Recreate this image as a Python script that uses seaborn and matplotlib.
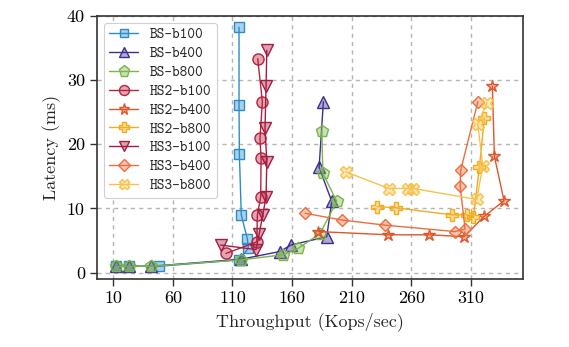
import matplotlib
matplotlib.use("Agg")
import matplotlib.pyplot as plt
import seaborn as sns
from matplotlib.colors import to_rgba

# ---- data (Throughput in Kops/sec, Latency in ms) ----
labels = ["BS-b100", "BS-b400", "BS-b800", "HS2-b100", "HS2-b400",
          "HS2-b800", "HS3-b100", "HS3-b400", "HS3-b800"]

bs_b100_x = [12.3, 23.4, 48.4, 115.5, 123.3, 122.5, 117.4, 115.8, 115.5, 115.5]
bs_b100_y = [1.0, 1.0, 1.0, 2.0, 3.8, 5.25, 9.0, 18.4, 26.1, 38.2]

bs_b400_x = [12.3, 23.4, 41.6, 117.2, 149.9, 158.9, 189.1, 193.3, 182.7, 186.3]
bs_b400_y = [1.0, 1.0, 1.0, 2.1, 3.3, 4.3, 5.6, 11.1, 16.4, 26.6]

bs_b800_x = [12.3, 23.4, 41.6, 117.4, 152.7, 165.3, 183.5, 197.5, 185.8, 185.0]
bs_b800_y = [1.0, 1.0, 1.0, 2.0, 2.8, 3.8, 6.1, 11.1, 15.5, 22.1]

hs2_b100_x = [104.6, 130.4, 130.9, 133.7, 134.0, 133.1, 135.1, 131.2]
hs2_b100_y = [3.0, 4.8, 9.0, 11.8, 17.8, 20.9, 26.6, 33.3]

hs2_b400_x = [182.1, 240.8, 275.2, 304.4, 321.4, 337.9, 329.8, 328.1]
hs2_b400_y = [6.4, 5.9, 5.9, 5.6, 8.8, 11.2, 18.1, 29.0]

hs2_b800_x = [231.6, 247.3, 294.0, 306.6, 312.2, 317.2, 321.4]
hs2_b800_y = [10.3, 10.1, 9.0, 9.0, 8.7, 16.4, 24.1]

hs3_b100_x = [100.1, 129.8, 132.5, 135.4, 138.2, 138.8, 137.3, 138.2, 138.8]
hs3_b100_y = [4.3, 3.6, 6.1, 9.0, 11.8, 17.3, 22.5, 29.0, 34.6]

hs3_b400_x = [170.9, 201.7, 238.1, 296.8, 305.2, 301.0, 301.6, 315.9]
hs3_b400_y = [9.25, 8.2, 7.4, 6.4, 6.8, 13.5, 16.0, 26.6]

hs3_b800_x = [204.9, 241.4, 257.6, 261.8, 315.0, 320.0, 315.9, 323.4]
hs3_b800_y = [15.7, 13.1, 13.1, 13.1, 11.4, 16.6, 23.1, 26.4]

xticks = [10, 60, 110, 160, 210, 260, 310]
yticks = [0, 10, 20, 30, 40]

series_x = [bs_b100_x, bs_b400_x, bs_b800_x, hs2_b100_x, hs2_b400_x,
            hs2_b800_x, hs3_b100_x, hs3_b400_x, hs3_b800_x]
series_y = [bs_b100_y, bs_b400_y, bs_b800_y, hs2_b100_y, hs2_b400_y,
            hs2_b800_y, hs3_b100_y, hs3_b400_y, hs3_b800_y]

# ---- styles ----
colors = ["#2b8cc8", "#3b2f92", "#7ab648", "#b5223f", "#e0552a",
          "#f2ac1c", "#a51c40", "#ec6e3e", "#f6c24c"]
markers = ["s", "^", "p", "o", "*", "P", "v", "D", "X"]
msizes = [7, 8, 9, 8, 9, 8, 8, 6.5, 8]

sns.set_style("white")
plt.rcParams["font.family"] = ["cmr10", "DejaVu Serif"]
plt.rcParams["axes.formatter.use_mathtext"] = True
plt.rcParams["mathtext.fontset"] = "cm"

fig = plt.figure(figsize=(5.69, 3.47), dpi=100)
ax = fig.add_axes([0.170, 0.195, 0.750, 0.760])

for x, y, lab, c, m, ms in zip(series_x, series_y, labels, colors, markers, msizes):
    sns.lineplot(x=x, y=y, ax=ax, sort=False, estimator=None, label=lab,
                 color=c, marker=m, markersize=ms, linewidth=1.0,
                 markerfacecolor=to_rgba(c, 0.4), markeredgecolor=c,
                 markeredgewidth=1.0)

ax.set_xlim(-3.9, 354.2)
ax.set_ylim(-1.03, 40)
ax.set_xticks(xticks)
ax.set_yticks(yticks)
ax.set_xticklabels([str(t) for t in xticks])
ax.set_yticklabels([str(t) for t in yticks])
ax.tick_params(axis="both", direction="out", length=5, width=1.0,
               labelsize=13, color="#333333", labelcolor="black",
               bottom=True, left=True)
ax.grid(True, linestyle=(0, (3, 3)), color="#b5b5b5", linewidth=1.0)
ax.set_axisbelow(True)
for s in ax.spines.values():
    s.set_color("#333333")
    s.set_linewidth(1.2)

ax.set_xlabel("Throughput (Kops/sec)", fontsize=13)
ax.set_ylabel("Latency (ms)", fontsize=13)

leg = ax.legend(loc="upper left", handlelength=2.0, markerscale=0.9,
                prop={"family": ["cmtt10", "DejaVu Sans Mono"], "size": 10.5},
                frameon=True, fancybox=True, framealpha=1.0,
                edgecolor="#d0d0d0", borderaxespad=0.5, labelspacing=0.32,
                borderpad=0.35)
leg.get_frame().set_linewidth(0.8)

fig.savefig("out.png", dpi=100)
